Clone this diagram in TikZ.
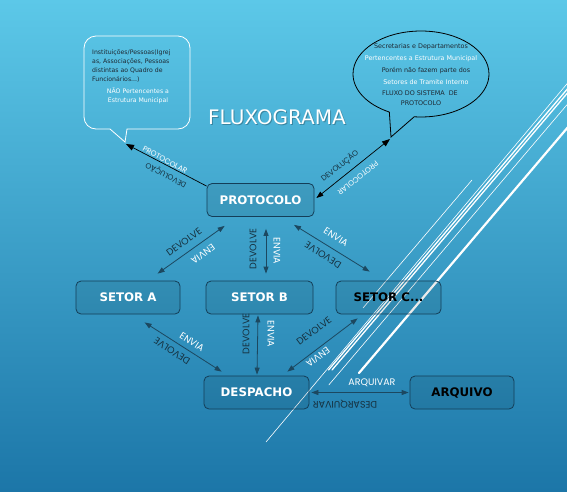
\documentclass[tikz,border=0pt]{standalone}
\usepackage{fontspec}
\setmainfont{DejaVu Sans}
\newfontfamily\lblfont{Poppins}
\usetikzlibrary{arrows.meta,shapes.callouts,calc}
\definecolor{bgtop}{RGB}{92,200,232}
\definecolor{bgbot}{RGB}{28,118,168}
\definecolor{boxline}{RGB}{20,62,88}
\definecolor{arrc}{RGB}{28,72,96}
\definecolor{darktxt}{RGB}{22,48,62}
\definecolor{calltxt}{RGB}{30,40,50}
\begin{document}
\begin{tikzpicture}[x=1pt,y=-1pt,
  box/.style={draw=boxline, line width=0.8pt, rounded corners=5pt, fill=black, fill opacity=0.08, text opacity=1,
    minimum height=33pt, inner sep=0pt, font=\bfseries\fontsize{11.8}{14}\selectfont},
  arr/.style={draw=arrc, line width=0.8pt, {Triangle[length=7pt,width=5pt]}-{Triangle[length=7pt,width=5pt]}},
  barr/.style={draw=black, line width=0.7pt},
  dl/.style={text=darktxt, font=\lblfont\fontsize{9.5}{10}\selectfont, inner sep=0pt},
  wl/.style={text=white, font=\lblfont\fontsize{9.5}{10}\selectfont, inner sep=0pt},
  sdl/.style={dl, font=\lblfont\fontsize{7.5}{8}\selectfont},
  swl/.style={wl, font=\lblfont\fontsize{7.5}{8}\selectfont},
  ctxt/.style={inner sep=0pt, font=\fontsize{6.2}{9.3}\selectfont},
  rtxt/.style={inner sep=0pt, font=\fontsize{6.4}{9}\selectfont},
  deco/.style={draw=white, line cap=round}
]
\useasboundingbox (0,0) rectangle (567,491);
\shade[top color=bgtop, bottom color=bgbot] (0,0) rectangle (567,491);

% decorative lines
\begin{scope}
\clip (0,0) rectangle (567,491);
\draw[deco, line width=0.6pt] (266,442) -- (587,60);
\draw[deco, line width=1.3pt] (328.5,370) -- (592,60);
\draw[deco, line width=1.3pt] (332,370) -- (595.5,60);
\draw[deco, line width=0.6pt] (328.75,385) -- (605,60);
\draw[deco, line width=2.2pt] (359,373) -- (625,60);
\draw[deco, line width=0.6pt] (363,308) -- (472,180);
\end{scope}

% boxes
\node[box, minimum width=107pt, text=white] (proto) at (260.5,200) {PROTOCOLO};
\node[box, minimum width=104pt, text=white] (setA) at (128,297.5) {SETOR A};
\node[box, minimum width=107pt, text=white] (setB) at (259.5,297.5) {SETOR B};
\node[box, minimum width=105pt, text=black] (setC) at (388.5,297.5) {SETOR C...};
\node[box, minimum width=105pt, text=white] (desp) at (256.5,392.5) {DESPACHO};
\node[box, minimum width=104pt, text=black] (arq) at (462,392.5) {ARQUIVO};

% title
\node[inner sep=0pt, text=black, opacity=0.25, font=\fontsize{20}{24}\selectfont] at (278,118) {FLUXOGRAMA};
\node[inner sep=0pt, text=white, font=\fontsize{20}{24}\selectfont] (title) at (277,117) {FLUXOGRAMA};

% left callout
\draw[white, line width=0.8pt] (100,129) [rounded corners=12pt] -- (84,129) -- (84,36) -- (190,36) -- (190,129) -- (140,129)
  [sharp corners] -- (127,129) -- (125,142) -- (110,129) -- (100,129);
\coordinate (cltip) at (126,144);
\node[ctxt, text=calltxt, anchor=north west, align=left] (cltext) at (92,49)
  {Instituições/Pessoas(Igrej\\as, Associações, Pessoas\\distintas ao Quadro de\\Funcionários...)};
\node[ctxt, text=white, align=center] (clwhite) at (138,96)
  {NÃO Pertencentes a\\Estrutura Municipal};

% right callout
\node[ellipse callout, draw=black, line width=0.8pt, minimum width=136pt, minimum height=86pt,
  callout absolute pointer={(391,137)}, callout pointer arc=22] (cr) at (421,74) {};
\coordinate (crtip) at (390,139);
\node[rtxt, text=calltxt] at (421,47) {Secretarias e Departamentos};
\node[rtxt, text=white] at (421,59) {Pertencentes a Estrutura Municipal};
\node[rtxt, text=calltxt] at (426,71) {Porém não fazem parte dos};
\node[rtxt, text=white] at (426,82) {Setores de Tramite Interno};
\node[rtxt, text=calltxt] at (420,93) {FLUXO DO SISTEMA \ DE};
\node[rtxt, text=calltxt] at (421,103) {PROTOCOLO};

% callout arrows
\draw[barr, -{Triangle[length=8pt,width=6pt]}] ($(proto.north west)+(0,3)$) -- (cltip);
\draw[barr, {Triangle[length=7pt,width=5pt]}-{Triangle[length=8pt,width=6pt]}] ($(proto.east)+(2,-2)$) -- (crtip);
\node[swl, rotate=-28] at (165,160) {PROTOCOLAR};
\node[sdl, rotate=152] at (166,175) {DEVOLUÇÃO};
\node[sdl, rotate=38.5] at (340,166) {DEVOLUÇÃO};
\node[swl, rotate=218.5] at (358,178) {PROTOCOLAR};

% inner connectors
\draw[arr] ($(proto.south west)+(18,9)$) -- ($(setA.north west)+(82,-7)$);
\node[dl, rotate=36] at (184,242) {DEVOLVE};
\node[wl, rotate=216] at (203,254) {ENVIA};

\draw[arr] ($(proto.south)+(5.5,12)$) -- ($(setB.north)+(6.5,-7)$);
\node[dl, rotate=90] at (253,249) {DEVOLVE};
\node[wl, rotate=-90] at (277,251) {ENVIA};

\draw[arr] ($(proto.south)+(33.5,8)$) -- ($(setC.north west)+(34,-9)$);
\node[wl, rotate=-32.5] at (336,237) {ENVIA};
\node[dl, rotate=147.5] at (323,255) {DEVOLVE};

\draw[arr] ($(setA.south west)+(69,8)$) -- ($(desp.north west)+(18,-4)$);
\node[wl, rotate=-33] at (192,342) {ENVIA};
\node[dl, rotate=147] at (172,351) {DEVOLVE};

\draw[arr] ($(setB.south)+(-1.5,1)$) -- ($(desp.north)+(0.5,-1)$);
\node[dl, rotate=90] at (246,334) {DEVOLVE};
\node[wl, rotate=-90] at (271,334) {ENVIA};

\draw[arr] ($(setC.south west)+(22,4)$) -- ($(desp.north east)+(-22,-4)$);
\node[dl, rotate=37] at (314,331) {DEVOLVE};
\node[wl, rotate=217] at (318,357) {ENVIA};

\draw[arr] ($(desp.east)+(2,0)$) -- ($(arq.west)+(-1,0)$);
\node[wl] at (372,383) {ARQUIVAR};
\node[dl, rotate=180] at (345,404) {DESARQUIVAR};
\end{tikzpicture}
\end{document}
